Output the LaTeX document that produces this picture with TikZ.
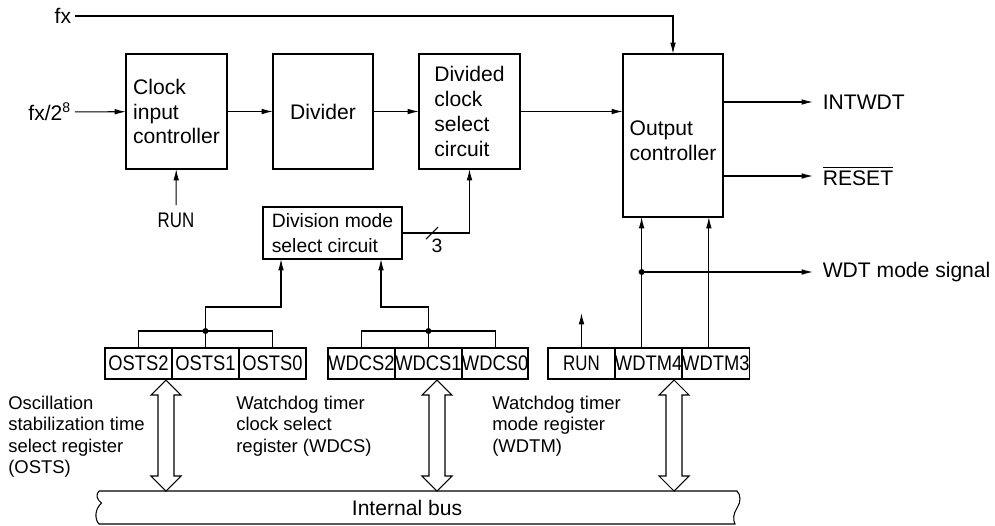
\documentclass[tikz,border=0pt]{standalone}
\usepackage{fontspec}
\setmainfont{Liberation Sans}
\usepackage{graphicx}
\usetikzlibrary{arrows.meta,positioning,calc}

\tikzset{
  blk/.style={draw, line width=1.1pt, inner sep=0pt, outer sep=0pt, align=left, font=\fontsize{12}{14.2}\selectfont},
  reg/.style={draw, line width=1.1pt, inner sep=0pt, outer sep=0pt, minimum width=1.34cm, minimum height=0.62cm, font=\fontsize{12}{14}\selectfont},
  lbl/.style={inner sep=0pt, font=\fontsize{12}{14}\selectfont},
  llbl/.style={lbl, anchor=east, outer sep=2.2pt},
  rlbl/.style={lbl, anchor=west, outer sep=5.6pt},
  txt/.style={inner sep=0pt, align=left, anchor=north west, font=\fontsize{10.5}{12.1}\selectfont},
  sig/.style={line width=0.6pt, -{Latex[length=6.5pt,width=3.2pt]}},
  wire/.style={line width=0.6pt},
}
\newcommand{\nrw}[1]{\scalebox{0.87}[1]{#1}}

\begin{document}
\begin{tikzpicture}[x=0.02cm, y=-0.02cm]
  \useasboundingbox (0,0) rectangle (995,525);

  % blocks
  \node[blk, minimum width=2.02cm, minimum height=2.3cm] (clk) at (176.5,111.5) {Clock\\input\\controller};
  \node[blk, minimum width=2cm, minimum height=2.3cm] (div) at (323,111.5) {Divider};
  \node[blk, minimum width=2.02cm, minimum height=2.3cm] (dcs) at (469.5,111.5) {Divided\\clock\\select\\circuit};
  \node[blk, minimum width=2cm, minimum height=3.26cm] (out) at (673,135.5) {\rule{0pt}{14.5pt}Output\\controller};
  \node[blk, minimum width=2.78cm, minimum height=1.04cm, font=\fontsize{11}{14.2}\selectfont] (dms) at (332.5,233) {Division mode\\select circuit};

  % registers
  \node[reg] (osts2) at (138.5,363.5) {\nrw{OSTS2}};
  \node[reg, right=0pt of osts2] (osts1) {\nrw{OSTS1}};
  \node[reg, right=0pt of osts1] (osts0) {\nrw{OSTS0}};
  \node[reg] (wdcs2) at (361.5,363.5) {\nrw{WDCS2}};
  \node[reg, right=0pt of wdcs2] (wdcs1) {\nrw{WDCS1}};
  \node[reg, right=0pt of wdcs1, minimum width=1.32cm] (wdcs0) {\nrw{WDCS0}};
  \node[reg] (run) at (581.5,363.5) {\scalebox{0.8}[1]{RUN}};
  \node[reg, right=0pt of run] (wdtm4) {\nrw{WDTM4}};
  \node[reg, right=0pt of wdtm4] (wdtm3) {\nrw{WDTM3}};

  % inputs and outputs
  \node[llbl] (fx) at (75,16) {fx};
  \node[llbl] (fin) at (75,112) {fx/2\textsuperscript{8}};
  \node[lbl, anchor=north, outer sep=4.5pt] (runin) at (176,205) {\scalebox{0.8}[1]{RUN}};
  \node[rlbl] (intwdt) at (813,102) {INTWDT};
  \node[rlbl] (reset) at (813,176) {$\overline{\hbox{RESET}}$};
  \node[rlbl] (wdt) at (813,272) {WDT mode signal};

  \draw[sig] (fx.east) -| (out.north);
  \draw[sig] (fin) -- (clk);
  \draw[sig] (clk) -- (div);
  \draw[sig] (div) -- (dcs);
  \draw[sig] (dcs.east) -- (dcs.east -| out.west);
  \draw[sig] (runin) -- (clk);
  \draw[sig] (out.east |- intwdt.west) -- (intwdt.west);
  \draw[sig] (out.east |- reset.west) -- (reset.west);

  % division mode select
  \draw[sig] (dms.east) -| (dcs.south);
  \draw[wire] (426,239) -- (438,227);
  \node[lbl, font=\fontsize{11}{13}\selectfont] (nb) at (437,246) {3};

  % OSTS and WDCS taps
  \draw[wire] (osts2.north) -- ++(0,-17) -| (osts0.north);
  \draw[wire] (osts1.north) -- ++(0,-17) coordinate (od);
  \draw[sig] (od) -- ++(0,-24) -| ($(dms.south west)+(18,0)$);
  \fill (od) circle (1.7pt);
  \draw[wire] (wdcs2.north) -- ++(0,-17) -| (wdcs0.north);
  \draw[wire] (wdcs1.north) -- ++(0,-17) coordinate (wd);
  \draw[sig] (wd) -- ++(0,-24) -| ($(dms.south west)+(118,0)$);
  \fill (wd) circle (1.7pt);

  % WDTM taps
  \coordinate (m4) at ($(wdtm4.north)+(-7,0)$);
  \coordinate (m3) at ($(wdtm3.north)+(-7,0)$);
  \draw[sig] (m4) -- (m4 |- out.south);
  \draw[sig] (m3) -- (m3 |- out.south);
  \draw[sig] (m4 |- wdt.west) -- (wdt.west);
  \fill (m4 |- wdt.west) circle (1.7pt);
  \draw[sig] (run.north) -- ++(0,-35);

  % internal bus
  \draw[wire] (99,491) -- (737,491) .. controls (741,495) and (741,502) .. (737,508)
    .. controls (733,514) and (733,520) .. (735,524) -- (99,524)
    .. controls (95,520) and (94,510) .. (101.5,503) .. controls (96,499) and (96,494) .. (99,491);
  \node[lbl] (bus) at (407,508) {Internal bus};
  \foreach \c in {166,437,674} {
    \draw[wire, fill=white] (\c,380) -- (\c+15,395) -- (\c+8,395) -- (\c+8,476) -- (\c+15,476)
      -- (\c,491) -- (\c-15,476) -- (\c-8,476) -- (\c-8,395) -- (\c-15,395) -- cycle;
  }

  % register names
  \node[txt] (tosts) at (8,396) {Oscillation\\stabilization time\\select register\\(OSTS)};
  \node[txt] (twdcs) at (236,396) {Watchdog timer\\clock select\\register (WDCS)};
  \node[txt] (twdtm) at (492,396) {Watchdog timer\\mode register\\(WDTM)};
\end{tikzpicture}
\end{document}
